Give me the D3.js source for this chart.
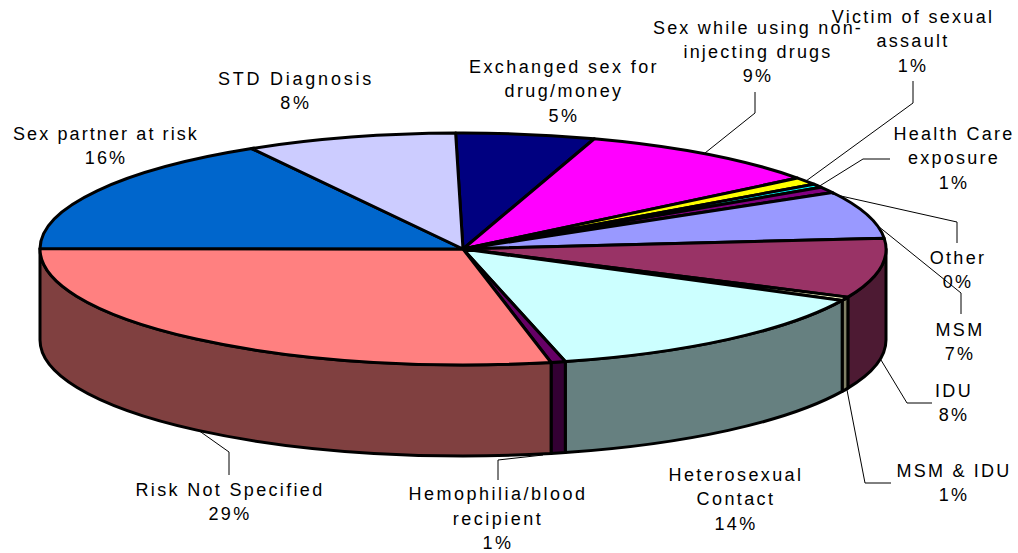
<!DOCTYPE html>
<html>
<head>
<meta charset="utf-8">
<script src="https://cdn.jsdelivr.net/npm/d3@7"></script>
<style>
    html, body { margin: 0; padding: 0; background: #fff; }
    svg { display: block; }
    text { font-family: "Liberation Sans", Arial, sans-serif; font-size: 18px; fill: #000; text-anchor: middle; }
    .top, .wall { stroke: #000; stroke-width: 3; stroke-linejoin: round; }
    .leader { fill: none; stroke: #000; stroke-width: 1; }
</style>
</head>
<body>
<svg width="1018" height="553"></svg>
<script>
// slices, clockwise from the top of the pie
var categories = ["Exchanged sex for drug/money", "Sex while using non-injecting drugs", "Victim of sexual assault",
    "Health Care exposure", "Other", "MSM", "IDU", "MSM & IDU", "Heterosexual Contact",
    "Hemophilia/blood recipient", "Risk Not Specified", "Sex partner at risk", "STD Diagnosis"];
var values = [5.3, 9.5, 1.05, 0.5, 0.83, 6.6, 8.3, 0.5, 13.8, 0.55, 28.4, 16.6, 8.05];
var percentLabels = ["5%", "9%", "1%", "1%", "0%", "7%", "8%", "1%", "14%", "1%", "29%", "16%", "8%"];
var labelLines = [
    ["Exchanged sex for", "drug/money"],
    ["Sex while using non-", "injecting drugs"],
    ["Victim of sexual", "assault"],
    ["Health Care", "exposure"],
    ["Other"],
    ["MSM"],
    ["IDU"],
    ["MSM & IDU"],
    ["Heterosexual", "Contact"],
    ["Hemophilia/blood", "recipient"],
    ["Risk Not Specified"],
    ["Sex partner at risk"],
    ["STD Diagnosis"]
];
var topColors = ["#000080", "#ff00ff", "#ffff00", "#00ffff", "#800080", "#9999ff", "#993366",
    "#ffffcc", "#ccffff", "#660066", "#ff8080", "#0066cc", "#ccccff"];

// label placement: centre x, first baseline, letter spacing
var labelX = [564, 758, 913, 954, 958, 960, 954, 954, 736, 498, 230, 106, 296];
var labelY = [73, 33.5, 23, 140, 263.5, 335.5, 396.5, 477, 481, 500.2, 496, 140, 85];
var labelSpacing = [2.4, 2.2, 2.3, 2.25, 2.3, 2.3, 2.3, 2.2, 2.4, 2.5, 2.33, 2.1, 2.75];
var lineStep = 24.4;

// leader lines, from slice edge to label
var leaders = [
    null,
    [[705, 153], [755, 113], [755, 92]],
    [[806, 181], [913, 103], [913, 81]],
    [[818, 187], [863, 159], [890, 159]],
    [[832, 194], [957, 222], [957, 243]],
    [[878, 226], [961, 293], [961, 314]],
    [[881, 360], [907, 403], [932, 403]],
    [[847, 390], [865, 483], [891, 483]],
    null,
    [[543, 455], [498, 460], [498, 480]],
    [[198, 430], [229, 452], [229, 475]],
    null,
    null
];

var cx = 463, cy = 249, rx = 423, ry = 116, depth = 91;

function px(a) { return cx + rx * Math.sin(a); }
function py(a) { return cy - ry * Math.cos(a); }

function arcTo(a, dy, sweep) {
    return "A" + rx + " " + ry + " 0 0 " + sweep + " " + px(a) + " " + (py(a) + dy);
}

var pie = d3.pie()
    .sort(null)
    .startAngle(-Math.PI / 180)
    .endAngle(2 * Math.PI - Math.PI / 180);

var arcs = pie(values);
var svg = d3.select("svg");

// side wall is only visible between 90 and 270 degrees
var wallFrom = Math.PI / 2, wallTo = 3 * Math.PI / 2;

svg.selectAll(".wall")
    .data(arcs.filter(function(d) { return d.endAngle > wallFrom && d.startAngle < wallTo; }))
    .enter()
    .append("path")
    .attr("class", "wall")
    .attr("fill", function(d) {
        var c = d3.rgb(topColors[d.index]);
        return d3.rgb(c.r * 0.5, c.g * 0.5, c.b * 0.5).formatHex();
    })
    .attr("d", function(d) {
        var a0 = Math.max(d.startAngle, wallFrom);
        var a1 = Math.min(d.endAngle, wallTo);
        return "M" + px(a0) + " " + py(a0)
            + arcTo(a1, 0, 1)
            + "L" + px(a1) + " " + (py(a1) + depth)
            + arcTo(a0, depth, 0)
            + "Z";
    });

svg.selectAll(".top")
    .data(arcs)
    .enter()
    .append("path")
    .attr("class", "top")
    .attr("fill", function(d) { return topColors[d.index]; })
    .attr("d", function(d) {
        return "M" + cx + " " + cy
            + "L" + px(d.startAngle) + " " + py(d.startAngle)
            + arcTo(d.endAngle, 0, 1)
            + "Z";
    });

var line = d3.line();
svg.selectAll(".leader")
    .data(leaders.filter(function(d) { return d != null; }))
    .enter()
    .append("path")
    .attr("class", "leader")
    .attr("d", line);

var labels = svg.selectAll(".label")
    .data(categories)
    .enter()
    .append("text")
    .attr("class", "label")
    .style("letter-spacing", function(d, i) { return labelSpacing[i] + "px"; });

labels.each(function(d, i) {
    var rows = labelLines[i].concat([percentLabels[i]]);
    d3.select(this).selectAll("tspan")
        .data(rows)
        .enter()
        .append("tspan")
        .attr("x", labelX[i])
        .attr("y", function(r, j) { return labelY[i] + j * lineStep; })
        .text(function(r) { return r; });
});
</script>
</body>
</html>
